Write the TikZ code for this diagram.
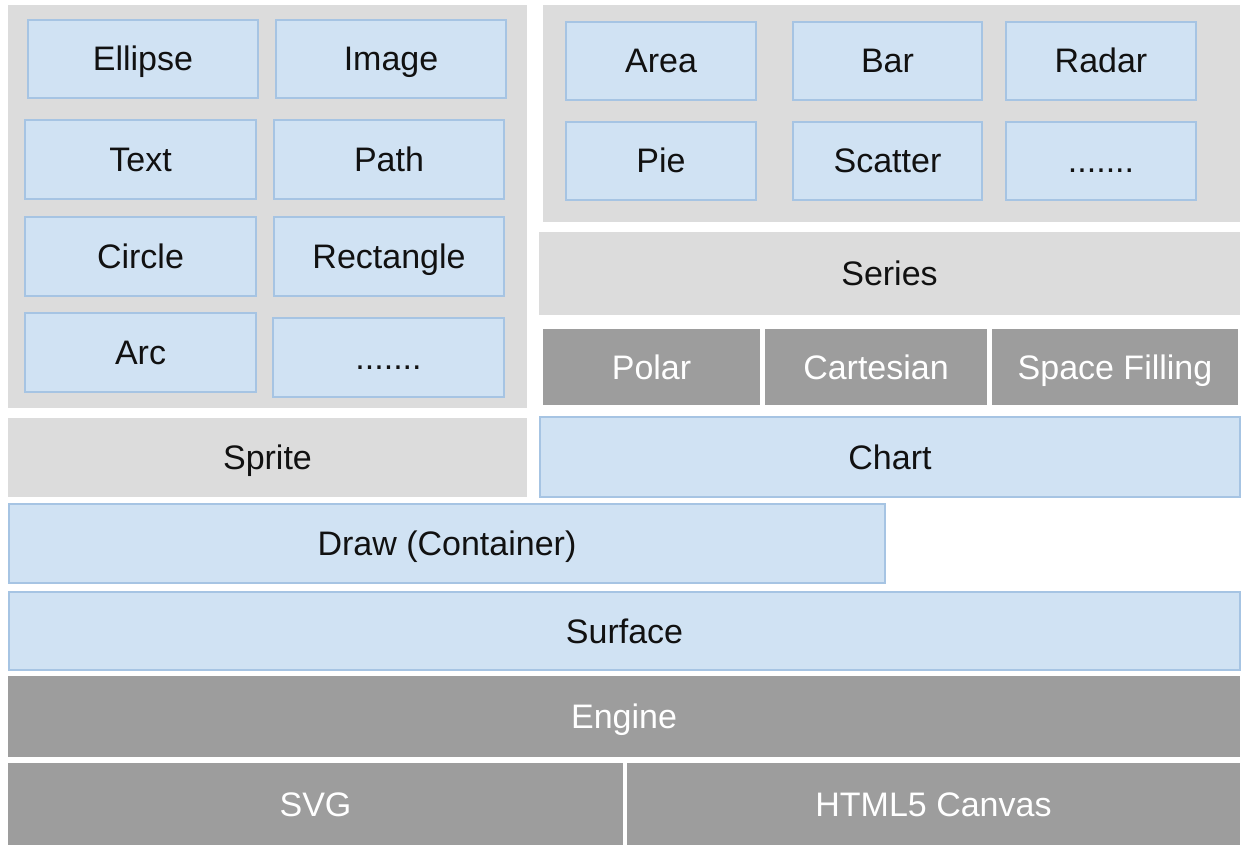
\documentclass[tikz,border=0pt]{standalone}
\usepackage{fontspec}
\setmainfont{Liberation Sans}
\definecolor{lgray}{HTML}{DCDCDC}
\definecolor{dgray}{HTML}{9D9D9D}
\definecolor{lblue}{HTML}{D0E2F3}
\definecolor{bblue}{HTML}{A6C4E3}
\definecolor{ink}{HTML}{111111}
\newcommand{\blk}[7][]{%
  \node[#1, minimum width={(#5-#3)*1pt}, minimum height={(#6-#4)*1pt}] (#2) at ({(#3+#5)/2},{(#4+#6)/2}) {#7};}
\begin{document}
\begin{tikzpicture}[x=1pt,y=-1pt,
  base/.style={rectangle, inner sep=0pt, outer sep=0pt, font=\fontsize{34}{40}\selectfont, text height=24pt, text depth=0pt},
  panel/.style={base, fill=lgray, text=ink},
  bluebox/.style={base, fill=lblue, draw=bblue, line width=2pt, text=ink},
  darkbox/.style={base, fill=dgray, text=white}]
\fill[white] (0,0) rectangle (1244,845);
\useasboundingbox (0,0) rectangle (1244,845);
% left panel
\blk[panel]{lpanel}{8}{5}{527}{408}{}
\blk[bluebox]{ellipse}{28}{20}{258}{98}{Ellipse}
\blk[bluebox]{image}{276}{20}{506}{98}{Image}
\blk[bluebox]{text}{25}{120}{256}{199}{Text}
\blk[bluebox]{path}{274}{120}{504}{199}{Path}
\blk[bluebox]{circle}{25}{217}{256}{296}{Circle}
\blk[bluebox]{rectangle}{274}{217}{504}{296}{Rectangle}
\blk[bluebox]{arc}{25}{313}{256}{392}{Arc}
\blk[bluebox]{ldots}{273}{318}{504}{397}{.......}
% right panel
\blk[panel]{rpanel}{543}{5}{1240}{222}{}
\blk[bluebox]{area}{566}{22}{756}{100}{Area}
\blk[bluebox]{bar}{793}{22}{982}{100}{Bar}
\blk[bluebox]{radar}{1006}{22}{1196}{100}{Radar}
\blk[bluebox]{pie}{566}{122}{756}{200}{Pie}
\blk[bluebox]{scatter}{793}{122}{982}{200}{Scatter}
\blk[bluebox]{rdots}{1006}{122}{1196}{200}{.......}
\blk[panel]{series}{539}{232}{1240}{315}{Series}
\blk[darkbox]{polar}{543}{329}{760}{405}{Polar}
\blk[darkbox]{cartesian}{765}{329}{987}{405}{Cartesian}
\blk[darkbox]{space}{992}{329}{1238}{405}{Space Filling}
% middle layers
\blk[panel]{sprite}{8}{418}{527}{497}{Sprite}
\blk[bluebox]{chart}{540}{417}{1240}{497}{Chart}
\blk[bluebox]{draw}{9}{504}{885}{583}{Draw (Container)}
\blk[bluebox]{surface}{9}{592}{1240}{670}{Surface}
\blk[darkbox]{engine}{8}{676}{1240}{757}{Engine}
\blk[darkbox]{svg}{8}{763}{623}{845}{SVG}
\blk[darkbox]{canvas}{627}{763}{1240}{845}{HTML5 Canvas}
\end{tikzpicture}
\end{document}
